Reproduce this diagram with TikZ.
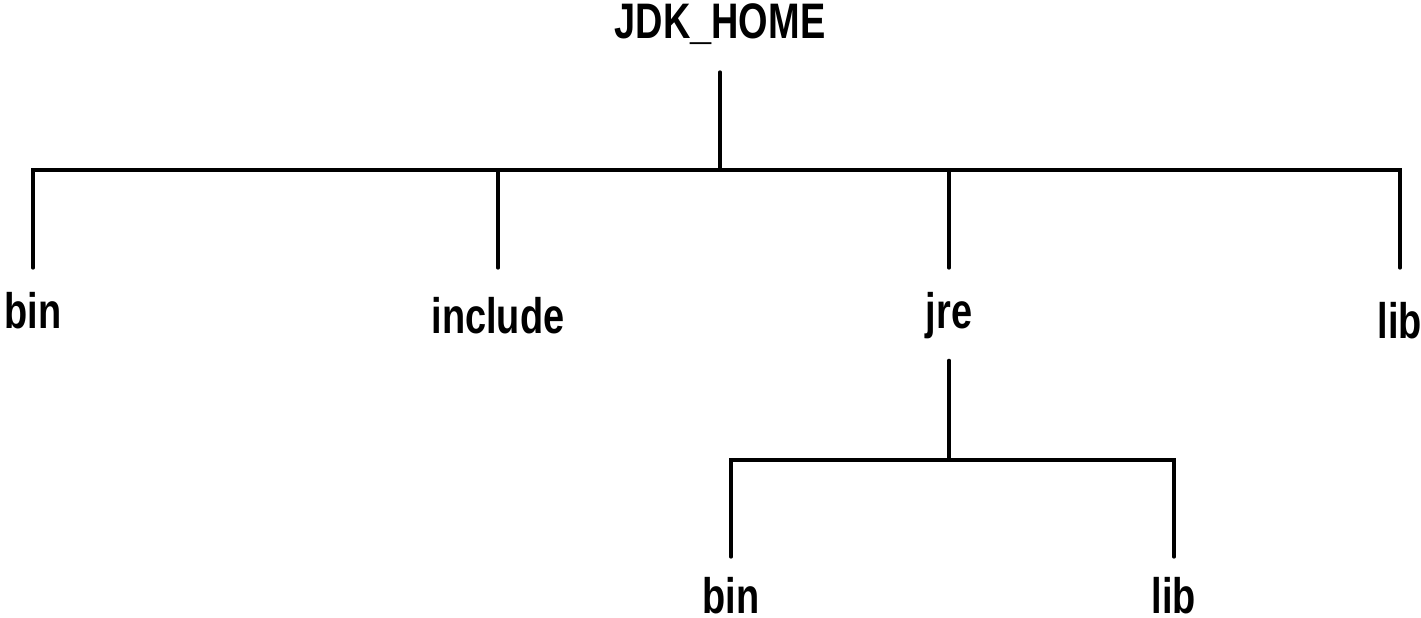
\documentclass[tikz,border=0pt]{standalone}
\usepackage{fontspec}
\usepackage{tikz}
\usetikzlibrary{positioning}
\newfontfamily\treefont[FakeStretch=0.76]{Liberation Sans}
\tikzset{
    treetext/.style={
        inner sep=0pt,
        font=\treefont\bfseries\fontsize{14.2pt}{17pt}\selectfont
    },
    dirname/.style={
        treetext,
        anchor=north,
        text height=#1,
        text depth=0pt
    },
    branch/.style={
        draw=black,
        line width=0.95pt,
        line cap=round
    }
}

\begin{document}
\begin{tikzpicture}
    \useasboundingbox (0,0) rectangle (14.21,6.17);

    % Nodes
    \node[treetext, anchor=south, text depth=0.33cm] (home) at (7.2,5.45) {JDK\_HOME};
    \coordinate (hub) at (7.2,4.47);

    \node[dirname=0.60cm] (bin) at (0.33,3.49) {bin};
    \node[dirname=0.65cm] (include) at (4.98,3.49) {include};
    \node[dirname=0.60cm, text depth=0.31cm] (jre) at (9.49,3.49) {jre};
    \node[dirname=0.70cm] (lib) at (14.00,3.49) {lib};

    \coordinate (jrehub) at (9.49,1.57);
    \node[dirname=0.56cm] (jrebin) at (7.31,0.60) {bin};
    \node[dirname=0.56cm] (jrelib) at (11.74,0.60) {lib};

    % Paths
    \draw[branch] (home) -- (hub);
    \foreach \dir in {bin,include,jre,lib}
        \draw[branch] (hub) -| (\dir);

    \draw[branch] (jre) -- (jrehub);
    \foreach \dir in {jrebin,jrelib}
        \draw[branch] (jrehub) -| (\dir);

\end{tikzpicture}
\end{document}
